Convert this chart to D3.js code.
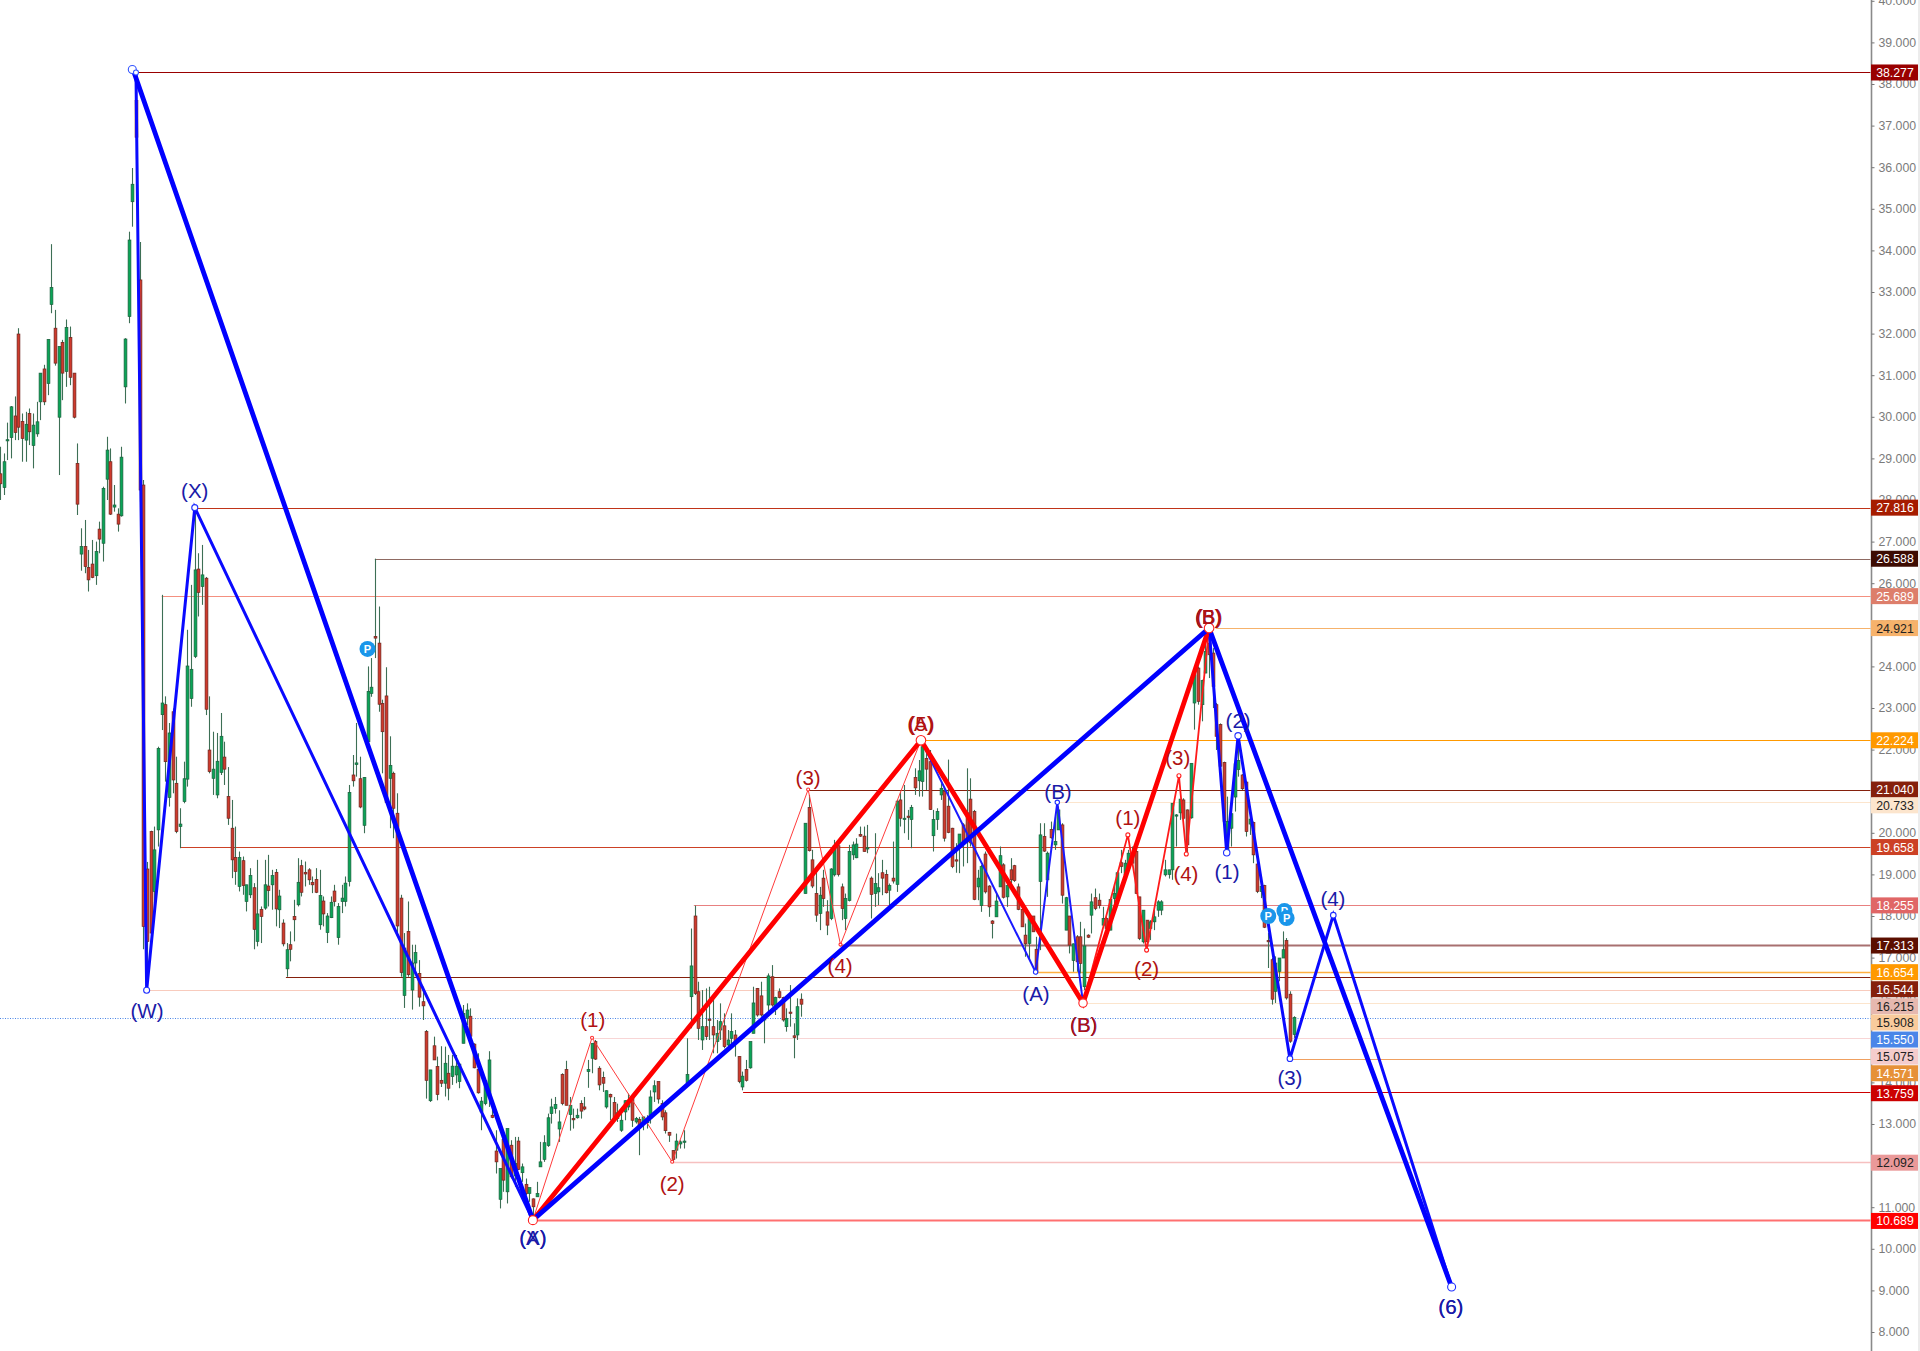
<!DOCTYPE html>
<html><head><meta charset="utf-8">
<style>html,body{margin:0;padding:0;background:#fff;overflow:hidden}svg{display:block}text{font-family:"Liberation Sans",Arial,sans-serif}</style>
<script src="https://cdn.jsdelivr.net/npm/d3@7/dist/d3.min.js"></script>
</head><body><svg id="c" width="1920" height="1351"></svg>
<script>
// [open, high, low, close] per bar
const candles = [
[28.63,29.28,28.0,28.39],[28.3,29.12,28.12,28.92],[29.43,29.86,28.96,29.45],[29.5,30.26,29.0,30.24],[30.02,30.49,29.44,29.62],[31.99,32.13,29.44,29.75],[29.89,30.08,28.92,29.48],[29.44,30.12,28.92,29.82],[30.08,30.2,29.32,29.64],[29.31,30.08,28.76,29.8],
[29.59,30.36,29.52,29.88],[30.36,31.05,29.92,31.05],[31.15,31.25,30.28,30.36],[30.8,31.86,30.52,31.86],[32.7,34.15,32.49,33.11],[32.13,32.57,31.23,31.29],[29.99,31.69,28.6,31.69],[31.79,31.85,30.4,31.05],[31.09,32.34,30.72,32.15],[31.91,32.17,30.76,30.95],
[31.05,31.05,29.96,29.99],[28.88,29.36,27.64,27.9],[26.7,27.32,26.3,26.88],[26.88,27.52,26.24,26.4],[26.38,26.8,25.8,26.08],[26.46,27.04,26.12,26.14],[26.18,27.0,25.96,26.76],[27.3,27.48,26.72,27.06],[26.96,28.32,26.52,28.28],[28.5,29.52,28.0,29.2],
[28.92,29.24,27.64,27.66],[27.83,28.36,27.72,27.88],[27.66,27.8,27.24,27.42],[27.62,29.28,27.6,29.03],[30.72,31.89,30.32,31.87],[32.41,34.45,32.25,34.25],[35.17,35.98,34.57,35.59],[37.6,38.28,36.2,36.72],[33.29,34.2,27.96,28.24],[28.36,28.48,17.2,17.75],
[19.13,19.3,16.22,17.39],[20.03,20.05,17.5,17.59],[18.59,20.15,18.31,19.59],[20.07,22.07,19.67,22.03],[22.84,25.72,22.47,23.12],[23.08,23.28,21.23,21.71],[20.85,22.64,20.63,22.4],[22.91,22.99,20.95,21.27],[21.19,21.83,19.99,20.03],[20.15,20.59,19.63,20.21],
[20.75,21.71,20.71,21.3],[21.29,24.88,21.11,24.01],[23.23,25.96,23.03,23.93],[24.24,27.8,24.2,26.32],[26.34,26.72,25.2,25.78],[25.92,26.92,25.48,26.2],[26.12,26.15,22.83,22.97],[21.99,23.28,21.43,21.47],[21.31,22.43,20.91,21.53],[20.91,22.4,20.83,21.72],
[21.45,22.88,21.39,22.32],[21.82,22.19,21.15,21.53],[20.87,21.58,20.19,20.35],[20.11,20.79,18.91,19.35],[19.41,20.15,18.75,19.07],[18.71,19.55,18.59,19.41],[19.33,19.43,18.51,18.73],[18.35,18.75,18.11,18.75],[18.51,19.15,18.43,18.97],[18.68,18.79,17.2,17.68],
[17.39,19.35,17.27,18.05],[18.16,18.23,17.35,17.99],[18.19,19.35,18.15,18.75],[18.72,19.47,18.23,18.61],[18.75,19.11,18.15,18.97],[19.05,19.13,17.75,18.17],[18.15,18.63,17.71,18.48],[17.83,17.92,17.27,17.33],[16.73,17.35,16.54,17.19],[17.31,17.63,16.91,17.2],
[17.99,18.39,17.39,17.91],[18.27,19.39,18.23,18.81],[19.21,19.35,18.47,18.57],[19.05,19.31,18.71,19.01],[19.11,19.15,18.75,18.87],[18.81,18.95,18.55,18.75],[18.88,19.15,18.55,18.57],[17.79,19.11,17.67,18.49],[18.36,18.47,17.75,18.05],[17.6,18.07,17.35,18.0],
[17.96,18.47,17.95,18.33],[18.6,18.75,18.23,18.35],[17.48,18.31,17.31,18.23],[18.35,18.75,18.07,18.43],[18.35,18.95,18.23,18.79],[18.83,21.15,18.71,20.97],[21.39,21.87,21.11,21.25],[21.64,22.64,21.35,21.68],[21.3,21.83,20.59,20.62],[20.18,21.34,19.99,21.33],
[22.19,24.0,22.19,23.4],[23.35,24.2,23.27,23.5],[24.72,26.59,24.2,24.68],[24.56,25.44,22.91,23.09],[23.11,23.2,21.43,22.43],[23.29,23.98,20.71,20.73],[21.31,22.32,20.11,21.62],[21.43,21.47,19.87,20.59],[20.47,20.95,17.59,17.76],[18.43,18.51,16.54,16.64],
[16.09,17.59,15.79,17.23],[17.63,18.35,16.54,16.59],[16.22,17.31,15.75,16.87],[16.87,17.31,16.62,17.12],[16.62,16.94,15.82,16.05],[15.94,16.3,15.5,15.84],[15.22,15.26,13.61,14.05],[13.56,14.3,13.53,14.3],[14.88,15.1,14.54,14.54],[14.38,14.62,13.57,13.71],
[14.05,14.87,13.89,13.98],[13.98,14.86,13.66,14.46],[14.22,14.66,13.57,13.86],[14.14,14.66,13.94,14.39],[14.18,14.66,13.98,14.39],[14.02,14.46,13.86,14.44],[14.94,15.86,14.94,15.66],[15.54,15.9,15.38,15.74],[15.59,15.78,14.86,15.11],[14.92,14.94,14.34,14.35],
[14.31,14.7,13.73,13.75],[13.29,13.65,12.85,13.55],[13.49,14.06,13.45,14.04],[13.65,14.75,13.41,14.54],[13.21,13.45,13.14,13.16],[12.35,12.85,11.81,12.09],[11.19,11.93,10.97,11.93],[12.63,12.65,11.37,11.65],[11.37,12.89,11.09,12.89],[12.49,12.61,11.69,11.73],
[11.75,12.69,11.49,12.05],[12.59,12.69,11.89,11.91],[11.83,12.05,11.61,11.97],[11.55,11.69,11.29,11.33],[11.33,11.47,11.13,11.47],[11.2,11.21,10.69,11.01],[11.25,11.61,11.25,11.33],[11.97,12.57,11.97,12.09],[12.15,12.73,12.09,12.55],[12.48,13.25,12.45,13.15],
[13.25,13.61,13.01,13.41],[13.37,13.65,13.25,13.47],[12.88,13.33,12.57,13.05],[14.19,14.22,13.45,13.49],[14.31,14.52,13.45,13.45],[13.23,13.65,12.84,13.45],[13.13,13.37,12.89,13.1],[13.15,13.37,13.13,13.21],[13.49,13.57,13.13,13.31],[13.41,13.65,13.33,13.36],
[14.26,14.54,13.87,14.31],[14.58,14.94,14.22,14.94],[14.98,15.02,14.54,14.56],[14.34,14.39,13.81,13.94],[14.12,14.26,13.77,13.98],[13.41,13.81,13.37,13.8],[13.71,13.73,13.09,13.65],[13.52,13.65,13.05,13.13],[13.13,13.49,13.05,13.27],[12.85,13.33,12.81,13.09],
[13.29,13.57,13.09,13.56],[13.41,13.73,13.33,13.57],[13.64,13.69,12.93,13.09],[13.05,13.17,13.01,13.13],[13.11,13.17,12.25,12.93],[13.05,13.17,12.85,13.17],[13.03,13.21,12.89,13.13],[13.13,13.81,13.01,13.65],[13.77,14.05,13.53,13.92],[14.02,14.02,13.49,13.6],
[13.49,13.57,13.09,13.17],[13.27,13.33,12.77,12.84],[12.8,12.81,12.57,12.73],[12.36,12.37,12.09,12.15],[12.37,12.77,12.17,12.59],[12.52,12.61,12.41,12.57],[12.56,12.85,12.41,12.59],[13.99,15.06,13.97,14.19],[16.06,17.7,15.3,16.8],[18.0,18.25,16.1,16.14],
[16.18,16.42,15.02,15.3],[15.02,16.22,14.78,15.34],[15.34,16.26,15.02,15.1],[15.52,16.3,15.02,15.5],[15.34,16.06,14.7,15.14],[14.98,15.5,14.7,15.18],[15.26,15.9,15.02,15.46],[15.36,15.66,14.82,14.86],[14.9,15.26,14.86,15.02],[15.06,15.66,14.9,15.22],
[15.14,15.26,14.62,14.94],[14.62,14.63,13.98,14.02],[13.89,14.26,13.81,14.15],[14.31,14.54,14.02,14.05],[14.35,14.98,14.33,14.98],[15.18,16.3,15.18,15.91],[16.26,16.27,15.58,15.62],[16.08,16.42,15.58,15.62],[15.5,15.62,14.94,15.62],[15.86,16.62,15.66,16.56],
[16.54,16.82,15.82,15.86],[15.75,16.06,15.62,16.04],[16.18,16.26,16.02,16.04],[16.04,16.06,15.46,15.5],[15.34,15.78,15.22,15.54],[15.69,16.34,15.34,15.66],[15.12,15.42,14.58,15.08],[15.14,16.02,15.02,15.82],[16.0,16.14,15.58,15.88],[18.54,20.23,18.54,20.23],
[20.61,20.91,19.55,19.57],[19.35,19.59,18.67,18.72],[18.54,19.07,17.86,18.02],[18.06,18.7,17.66,18.5],[18.91,19.11,18.22,18.42],[18.1,18.38,17.54,17.78],[17.94,19.15,17.9,19.13],[18.99,19.83,18.95,19.69],[19.69,19.75,18.95,19.0],[18.7,18.78,17.9,18.18],
[17.94,18.54,17.66,18.42],[18.37,19.71,18.35,19.55],[19.47,19.79,19.35,19.71],[19.4,19.87,19.39,19.73],[19.96,20.15,19.9,19.92],[19.92,20.15,19.55,19.55],[19.61,20.19,19.51,19.64],[18.91,18.95,17.94,18.52],[18.54,19.99,18.22,18.78],[18.58,19.03,18.26,18.68],
[19.04,19.35,18.5,18.91],[19.0,19.11,18.54,18.56],[18.62,18.78,18.26,18.73],[18.91,19.79,18.78,18.84],[18.76,20.79,18.58,20.76],[20.79,20.99,20.15,20.35],[20.32,21.15,19.99,20.35],[20.4,20.55,19.83,20.38],[20.32,20.67,19.63,20.61],[21.33,21.55,20.91,21.08],
[21.25,21.75,20.87,21.49],[21.23,22.19,20.87,22.07],[21.79,22.07,21.03,21.53],[21.71,21.99,20.55,20.56],[19.93,20.55,19.55,20.32],[20.32,20.59,20.07,20.51],[20.91,21.19,20.79,21.07],[21.0,21.07,19.79,19.87],[20.64,21.76,19.99,20.01],[20.11,20.12,19.15,19.19],
[19.35,19.75,19.04,19.32],[19.68,19.97,19.03,19.97],[20.19,20.23,19.19,19.75],[20.48,21.55,19.27,19.79],[20.81,21.31,19.67,19.76],[20.51,20.55,18.38,18.4],[18.7,19.11,18.38,18.91],[18.25,19.23,18.1,19.19],[19.49,19.55,18.54,18.58],[18.72,18.74,17.98,18.22],
[17.88,17.9,17.46,17.82],[17.98,18.54,17.98,18.36],[18.7,19.67,18.7,19.45],[19.23,19.27,18.42,18.45],[18.46,18.78,18.22,18.73],[19.11,19.39,18.78,18.87],[19.21,19.23,18.82,18.85],[18.7,18.78,18.14,18.16],[18.16,18.18,17.74,17.74],[17.54,17.82,17.02,17.33],
[17.34,18.06,16.94,18.02],[18.0,18.0,17.62,17.62],[17.2,17.5,16.66,16.66],[18.83,20.23,17.18,19.95],[19.91,20.23,19.54,19.56],[18.87,19.55,18.46,19.51],[20.08,20.27,19.86,19.88],[19.71,20.39,19.59,19.79],[20.07,20.63,20.07,20.55],[20.19,20.23,18.3,18.5],
[17.66,18.46,17.66,18.44],[18.0,18.0,17.1,17.3],[16.93,17.34,16.66,17.33],[17.5,17.54,16.66,16.9],[17.5,17.86,16.62,16.86],[16.3,17.7,16.22,17.28],[17.54,17.56,17.47,17.49],[18.02,18.54,17.58,18.34],[18.44,18.66,18.14,18.18],[18.38,18.54,18.18,18.25],
[17.78,18.22,17.74,17.94],[17.94,17.98,17.62,17.7],[17.66,18.42,17.66,18.4],[18.42,18.78,18.3,18.54],[18.38,19.07,18.34,19.04],[19.28,19.59,19.03,19.19],[18.99,19.35,18.95,19.27],[19.15,19.59,19.11,19.51],[19.5,19.67,19.27,19.27],[19.55,19.63,18.54,18.54],
[18.46,18.46,17.42,17.46],[17.38,18.14,17.34,18.14],[17.9,17.9,17.26,17.38],[17.7,17.9,17.42,17.86],[17.86,18.14,17.66,17.98],[18.14,18.38,17.98,18.34],[18.14,18.38,18.02,18.34],[18.99,19.35,18.95,19.11],[19.0,19.11,18.9,19.11],[19.11,20.71,18.87,20.71],
[20.41,20.45,19.67,20.43],[20.48,20.81,20.31,20.81],[20.79,20.83,20.31,20.35],[20.55,20.56,19.51,19.71],[20.36,21.67,20.34,21.67],[23.12,24.0,22.48,23.8],[23.96,24.0,23.08,23.16],[23.08,23.68,22.68,23.66],[23.84,24.88,23.84,24.36],[24.56,24.92,23.72,24.28],
[24.32,24.44,23.0,23.52],[23.08,23.12,21.99,22.32],[22.6,22.63,21.6,21.6],[21.69,21.71,20.23,20.27],[19.59,20.87,19.59,20.27],[20.11,20.47,19.67,20.46],[20.86,21.67,20.51,21.66],[21.52,22.31,21.35,21.74],[21.39,21.41,21.03,21.06],[21.22,21.23,19.91,20.03],
[20.21,20.55,19.95,20.33],[20.25,20.27,19.27,19.47],[19.25,19.51,18.55,18.59],[18.59,18.95,18.43,18.71],[18.73,18.75,17.71,17.73],[17.41,17.59,16.75,17.38],[16.95,16.99,15.87,16.0],[16.19,17.03,15.91,16.87],[16.67,16.99,16.43,16.99],[16.99,17.63,16.99,17.19],
[17.41,17.47,15.99,16.03],[16.12,16.19,14.95,14.99],[15.15,15.59,15.07,15.56]
];
const axisTicks = d3.range(8,41);
const levelValues = [38.277,27.816,26.588,25.689,24.921,22.224,21.04,20.733,19.658,18.255,17.313,16.654,16.544,16.215,15.908,15.55,15.075,14.571,13.759,12.092,10.689];
const levelStarts = [37.2,53.8,102,44,330.8,251.5,219.9,288,49.1,188.8,228.7,281.8,77.8,40,294.7,0,161.1,351,202.2,182.9,145];
const levelLineColors = ["#990000","#c03418","#8f6a62","#f49080","#f6b26b","#ff9900","#85200c","#fce5cd","#cc4125","#e88080","#a87070","#ffb040","#85200c","#f8cbbd","#fce5cd","#4a86e8","#f8d5d5","#f0a060","#cc0000","#f6c0c0","#ff7070"];
const levelLineWidths = [1,1,1,1,1,1,1,1,1,1,2,1.5,1.2,1,1,1,1,1,1,1.5,2];
const levelBoxColors = ["#990000","#a61c00","#3d0c02","#dd7e6b","#f6b26b","#ff9900","#85200c","#fce5cd","#cc4125","#e06666","#5b0f00","#ff9900","#85200c","#e6b8af","#f9cb9c","#4a86e8","#f4cccc","#e69138","#cc0000","#ea9999","#ff0000"];
const levelTextColors = ["#fff","#fff","#fff","#fff","#222","#fff","#fff","#222","#fff","#fff","#fff","#fff","#fff","#222","#222","#fff","#222","#fff","#fff","#222","#fff"];
const levelLabelSlots = [38.277,27.816,26.588,25.689,24.921,22.224,21.04,20.66,19.658,18.255,17.29,16.65,16.24,15.83,15.44,15.03,14.62,14.22,13.74,12.07,10.67];
// wave polylines as [bar, price]
const waveThickBlue = [[36.2,38.35],[145,10.689],[329,24.921],[395,9.08]];
const waveThickRed = [[145,10.689],[250.6,22.224],[294.7,15.908],[329,24.921]];
const waveMidBlue = [[37,38.277],[39.9,16.215],[53,27.816],[145,10.689]];
const waveMidBlue2 = [[329,24.921],[333.8,19.52],[336.9,22.33],[351,14.571],[362.8,18.02],[395,9.08]];
const waveThinBlue = [[250.6,22.224],[281.8,16.654],[287.7,20.733],[294.7,15.908]];
const waveThinRed = [[145,10.689],[161.1,15.075],[182.9,12.092],[219.9,21.04],[228.7,17.313],[250.6,22.224]];
const waveThinRed2 = [[294.7,15.908],[306.9,19.95],[312,17.18],[320.8,21.37],[322.8,19.49],[329,24.921]];
// wave node circles
const nodeBars = [36,37,39.9,53,145,250.6,294.7,329,395,281.8,287.7,333.8,336.9,351,362.8,161.1,182.9,219.9,228.7,306.9,312,320.8,322.8];
const nodePrices = [38.35,38.277,16.215,27.816,10.689,22.224,15.908,24.921,9.08,16.654,20.733,19.52,22.33,14.571,18.02,15.075,12.092,21.04,17.313,19.95,17.18,21.37,19.49];
const nodeRadii = [4,2.5,3,3,4.5,4.8,4.2,4.8,4,2.2,2.2,3.2,3.2,2.8,2.8,1.5,1.5,1.5,1.5,2,2,2,2];
const nodeColors = ["#3355ff","#3355ff","#2030ff","#2030ff","#ff2020","#ff2020","#ff2020","#ff2020","#2030ff","#2030ff","#2030ff","#2030ff","#2030ff","#2030ff","#2030ff","#ff3030","#ff3030","#ff3030","#ff3030","#ff2020","#ff2020","#ff2020","#ff2020"];
// wave captions
const blueDark="#1a1aa8", redDark="#b01212";
const captionTexts = ["(X)","(W)","(X)","(A)","(1)","(2)","(3)","(4)","(A)","(5)","(A)","(B)","(B)","(B)","(1)","(2)","(3)","(4)","(1)","(2)","(3)","(4)","(B)","(5)","(B)","(6)","(6)"];
const captionBars = [53,40,145,145,161.3,182.9,219.9,228.6,250.6,250.6,281.9,287.9,294.9,294.9,306.9,312,320.5,322.7,333.9,336.9,351,362.7,328.9,328.9,328.9,394.8,394.8];
const captionPrices = [28.24,15.72,10.26,10.26,15.52,11.56,21.34,16.82,22.62,22.62,16.13,21.0,15.4,15.4,20.36,16.74,21.8,19.03,19.06,22.71,14.12,18.41,25.19,25.19,25.19,8.61,8.61];
const captionColors = [blueDark,blueDark,blueDark,blueDark,redDark,redDark,redDark,redDark,redDark,redDark,blueDark,blueDark,blueDark,redDark,redDark,redDark,redDark,redDark,blueDark,blueDark,blueDark,blueDark,blueDark,redDark,redDark,blueDark,blueDark];
// "P" markers
const pinBars = [100,345.1,349.5,350.1];
const pinPrices = [24.42,18.0,18.12,17.95];

const xScale = d3.scaleLinear().domain([0,1]).range([0,3.675]);
const yScale = d3.scaleLinear().domain([8,40]).range([1332,0.8]);
const AXIS_X = 1871.5;
const svg = d3.select("#c");
svg.append("rect").attr("width",1920).attr("height",1351).attr("fill","#fff");
svg.append("rect").attr("x",1918).attr("width",2).attr("height",1351).attr("fill","#ececec");

svg.append("g").selectAll("line").data(levelValues).join("line")
 .attr("x1",(d,i)=>xScale(levelStarts[i])).attr("x2",AXIS_X-1)
 .attr("y1",d=>Math.round(yScale(d))+0.5).attr("y2",d=>Math.round(yScale(d))+0.5)
 .attr("stroke",(d,i)=>levelLineColors[i]).attr("stroke-width",(d,i)=>levelLineWidths[i])
 .attr("stroke-dasharray",d=>d===15.55?"1,1.5":null);

const cg = svg.append("g");
const bx = i=>Math.round(xScale(i))+0.5;
cg.selectAll("line").data(candles).join("line")
 .attr("x1",(d,i)=>bx(i)).attr("x2",(d,i)=>bx(i))
 .attr("y1",d=>yScale(d[1])).attr("y2",d=>yScale(d[2]))
 .attr("stroke","#3d6f55").attr("stroke-width",1.1);
cg.selectAll("rect").data(candles).join("rect")
 .attr("x",(d,i)=>bx(i)-1.4).attr("width",2.8)
 .attr("y",d=>yScale(Math.max(d[0],d[3])))
 .attr("height",d=>Math.max(1.2,Math.abs(yScale(d[0])-yScale(d[3]))))
 .attr("fill",d=>d[3]>=d[0]?"#0aa557":"#cf3a2c")
 .attr("stroke",d=>d[3]>=d[0]?"#1b5e3c":"#6b231c").attr("stroke-width",0.7);

const line = d3.line().x(d=>xScale(d[0])).y(d=>yScale(d[1]));
const addWave=(pts,col,w)=>svg.append("path").datum(pts).attr("d",line).attr("fill","none").attr("stroke",col).attr("stroke-width",w).attr("stroke-linejoin","miter");
addWave(waveThinRed,"#ff3b3b",1);
addWave(waveThinRed2,"#ff1a1a",1.8);
addWave(waveThinBlue,"#1a1aff",2);
addWave(waveMidBlue,"#0a0aff",3);
addWave(waveMidBlue2,"#0a0aff",3);
addWave(waveThickRed,"#ff0000",4.8);
addWave(waveThickBlue,"#0000ff",4.8);

svg.append("g").selectAll("circle").data(nodeBars).join("circle")
 .attr("cx",d=>xScale(d)).attr("cy",(d,i)=>yScale(nodePrices[i])).attr("r",(d,i)=>nodeRadii[i])
 .attr("fill","#fff").attr("stroke",(d,i)=>nodeColors[i]).attr("stroke-width",1.1);

const pg = svg.append("g");
[0,2,1,3].forEach(i=>{
  const cx=xScale(pinBars[i]), cy=yScale(pinPrices[i]);
  pg.append("circle").attr("cx",cx).attr("cy",cy).attr("r",8).attr("fill","#1a96ea");
  pg.append("text").attr("x",cx).attr("y",cy+4).attr("text-anchor","middle").attr("fill","#fff").attr("font-size",11).attr("font-weight","bold").text("P");
});

svg.append("g").selectAll("text").data(captionTexts).join("text")
 .attr("x",(d,i)=>xScale(captionBars[i])).attr("y",(d,i)=>yScale(captionPrices[i]))
 .attr("text-anchor","middle").attr("dominant-baseline","central")
 .attr("font-size",20.5).attr("fill",(d,i)=>captionColors[i]).text(d=>d);

const axis = d3.axisRight(yScale).tickValues(axisTicks).tickSize(3).tickPadding(4).tickFormat(d3.format(".3f"));
const ag = svg.append("g").attr("transform",`translate(${AXIS_X},0)`).call(axis);
ag.select(".domain").attr("stroke","#8a8a8a").attr("stroke-width",1.6).attr("d","M0,0V1351");
ag.selectAll(".tick line").attr("stroke","#777");
ag.selectAll(".tick text").attr("fill","#7b7b7b").attr("font-size",12.3).attr("font-family",'"Liberation Sans",Arial,sans-serif');

const lb = svg.append("g").selectAll("g").data(levelValues).join("g")
 .attr("transform",(d,i)=>`translate(${AXIS_X-0.5},${yScale(levelLabelSlots[i])})`);
lb.append("rect").attr("x",0).attr("y",-8).attr("width",47).attr("height",16).attr("fill",(d,i)=>levelBoxColors[i]);
lb.append("text").attr("x",24).attr("y",4.5).attr("text-anchor","middle").attr("font-size",12.3).attr("fill",(d,i)=>levelTextColors[i]).text(d=>d3.format(".3f")(d));
</script></body></html>
